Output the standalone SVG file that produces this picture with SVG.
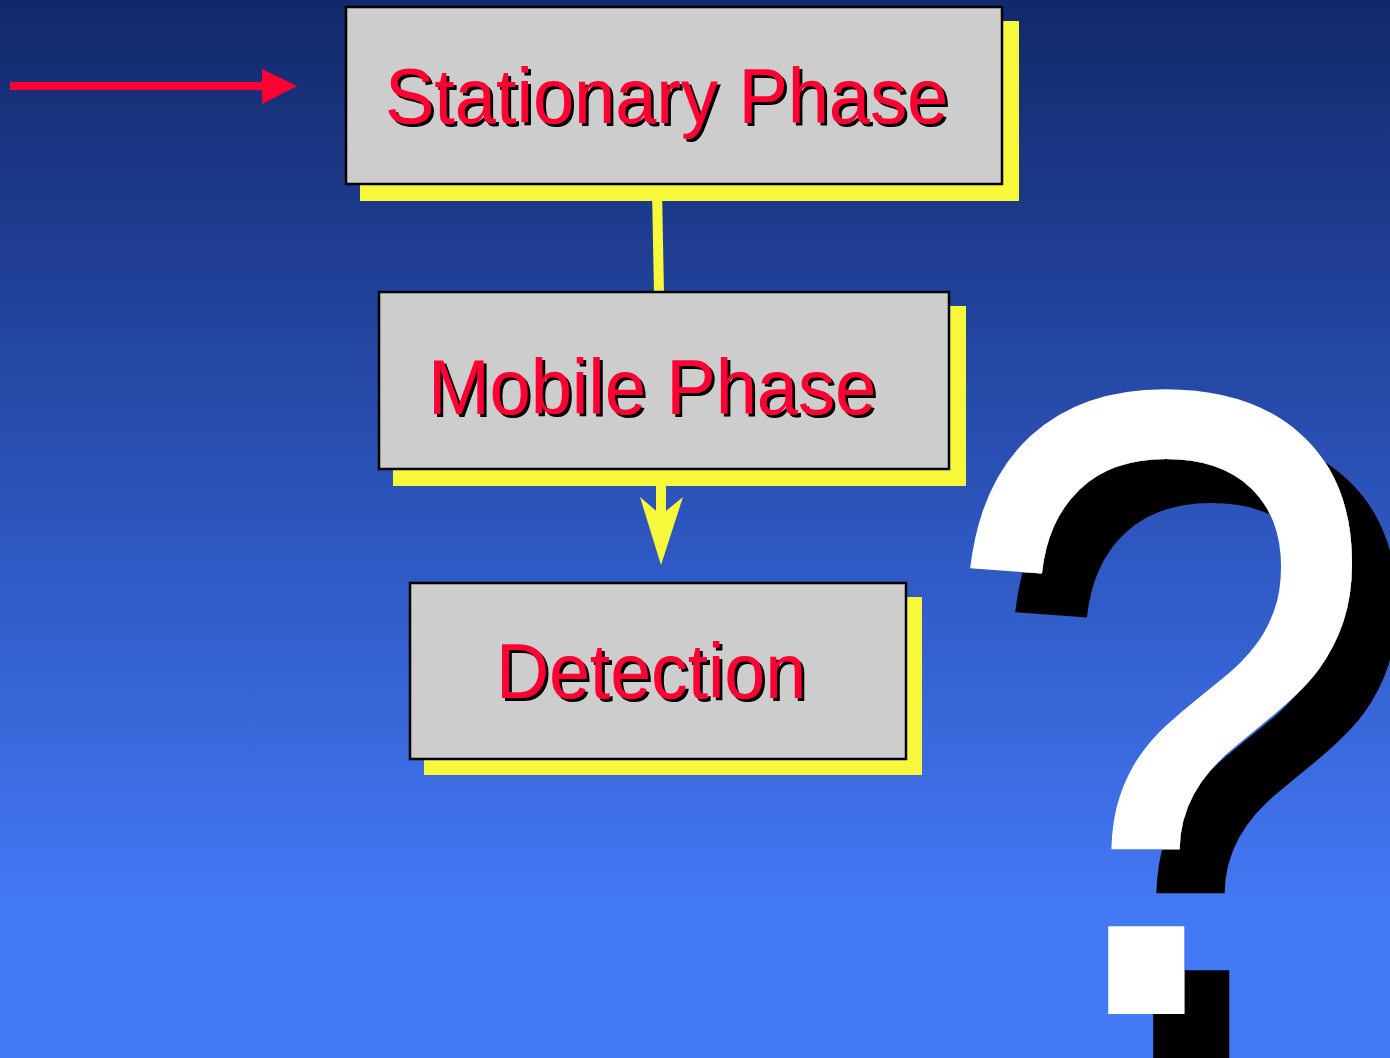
<svg xmlns="http://www.w3.org/2000/svg" width="1390" height="1058" viewBox="0 0 1390 1058">
<defs>
<linearGradient id="bg" x1="0" y1="0" x2="0" y2="1058" gradientUnits="userSpaceOnUse">
<stop offset="0" stop-color="#12286a"/>
<stop offset="0.5" stop-color="#2d56be"/>
<stop offset="0.87" stop-color="#4479f6"/>
<stop offset="1" stop-color="#4479f6"/>
</linearGradient>
<filter id="ts" filterUnits="userSpaceOnUse" x="0" y="0" width="1390" height="1058">
<feFlood flood-color="#000" result="f"/>
<feComposite in="f" in2="SourceAlpha" operator="in" result="s"/>
<feOffset in="s" dx="3" dy="3" result="o"/>
<feMerge><feMergeNode in="o"/><feMergeNode in="SourceGraphic"/></feMerge>
</filter>
<filter id="qs" filterUnits="userSpaceOnUse" x="0" y="0" width="1390" height="1058">
<feFlood flood-color="#000" result="f"/>
<feComposite in="f" in2="SourceAlpha" operator="in" result="s"/>
<feOffset in="s" dx="45" dy="44" result="o"/>
<feMerge><feMergeNode in="o"/><feMergeNode in="SourceGraphic"/></feMerge>
</filter>
</defs>
<style>
.shadow{fill:#f7f73c}
.box{fill:#cdcdcd;stroke:#000;stroke-width:2.5}
.lbl{font-family:"Liberation Sans",Arial,sans-serif;font-size:78px;fill:#ff0033}
.yl{stroke:#f7f73c;stroke-width:10;fill:none}
.q{font-family:"Liberation Sans",Arial,sans-serif;font-size:858px;fill:#fff}
</style>
<rect width="1390" height="1058" fill="url(#bg)"/>
<g id="connectors">
<line class="yl" x1="657" y1="190" x2="659" y2="293"/>
<line class="yl" x1="661" y1="475" x2="661" y2="520"/>
<polygon points="640,497 661,515 683,497 661,565" fill="#f7f73c"/>
<line x1="10" y1="86" x2="266" y2="86" stroke="#ff0033" stroke-width="8"/>
<polygon points="262,69 297,86 262,104" fill="#ff0033"/>
</g>
<g id="stationary">
<rect class="shadow" x="360" y="21" width="659" height="180"/>
<rect class="box" x="346" y="7" width="656" height="177"/>
<g filter="url(#ts)"><text class="lbl" x="385" y="123" textLength="563" lengthAdjust="spacingAndGlyphs">Stationary Phase</text></g>
</g>
<g id="mobile">
<rect class="shadow" x="393" y="306" width="573" height="180"/>
<rect class="box" x="379" y="292" width="570" height="177"/>
<g filter="url(#ts)"><text class="lbl" x="428" y="414" textLength="448" lengthAdjust="spacingAndGlyphs">Mobile Phase</text></g>
</g>
<g id="detection">
<rect class="shadow" x="424" y="597" width="498" height="178"/>
<rect class="box" x="410" y="583" width="496" height="176"/>
<g filter="url(#ts)"><text class="lbl" x="496" y="698" textLength="310" lengthAdjust="spacingAndGlyphs">Detection</text></g>
</g>
<g id="question" filter="url(#qs)">
<g transform="translate(937.4,1014) scale(0.931,1.043)">
<text class="q" x="0" y="0">?</text>
</g>
</g>
</svg>
